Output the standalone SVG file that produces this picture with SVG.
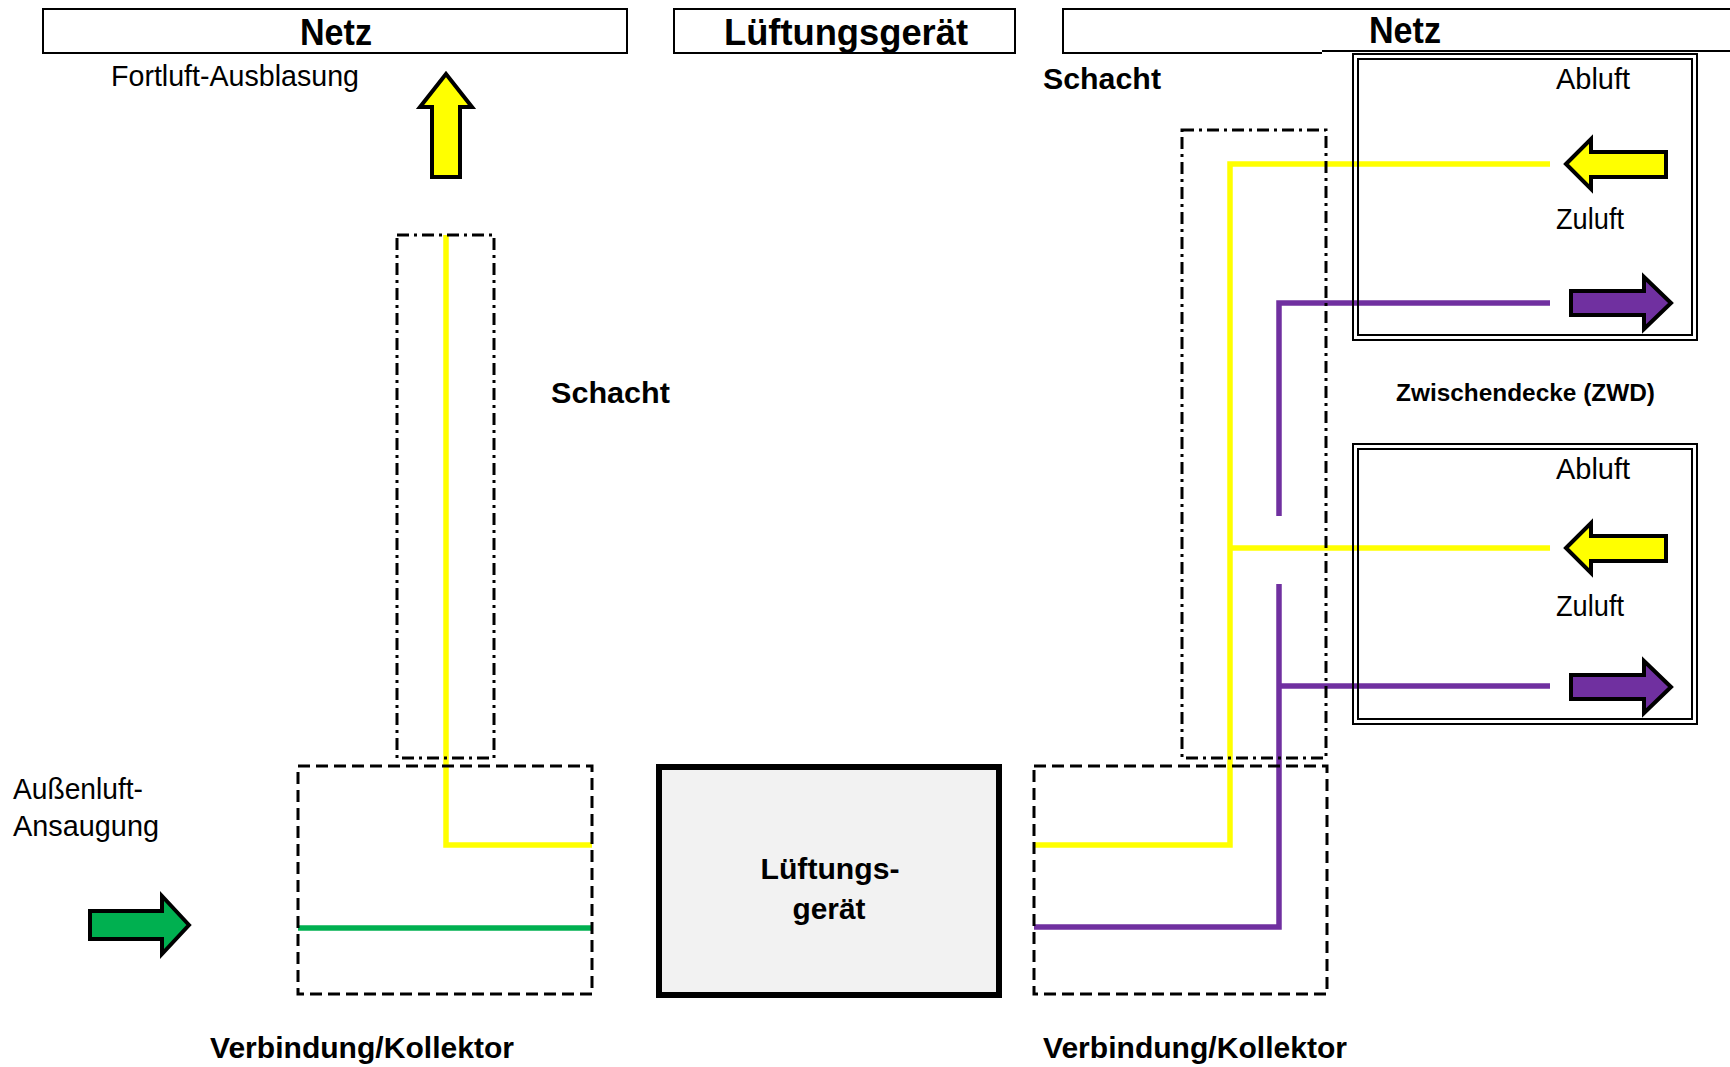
<svg xmlns="http://www.w3.org/2000/svg" width="1730" height="1067" viewBox="0 0 1730 1067">
<style>
text{font-family:"Liberation Sans Narrow","Liberation Sans",Arial,sans-serif;fill:#000}
.h{font-size:36px;font-weight:bold}
.n{font-size:29px}
.b{font-size:30px;font-weight:bold}
.box{fill:#fff;stroke:#000;stroke-width:2}
.dash{fill:none;stroke:#000;stroke-width:3;stroke-dasharray:12 6}
.dd{fill:none;stroke:#000;stroke-width:3;stroke-dasharray:12 5 3 5}
.y{fill:none;stroke:#ffff00;stroke-width:5.5}
.p{fill:none;stroke:#7030a0;stroke-width:5.5}
.g{fill:none;stroke:#00b050;stroke-width:5.5}
.arr{stroke:#000;stroke-width:4;stroke-linejoin:miter}
.zwd{fill:none;stroke:#000;stroke-width:2}
</style>
<rect width="1730" height="1067" fill="#fff"/>

<g id="netz-left">
<rect class="box" x="43" y="9" width="584" height="44"/>
<text class="h" x="336" y="45" text-anchor="middle" textLength="72" lengthAdjust="spacingAndGlyphs">Netz</text>
</g>
<g id="lueftungsgeraet-header">
<rect class="box" x="674" y="9" width="341" height="44"/>
<text class="h" x="846" y="45" text-anchor="middle" textLength="244" lengthAdjust="spacingAndGlyphs">Lüftungsgerät</text>
</g>
<g id="netz-right">
<path d="M1740 9 H1063 V53 H1322 M1322 51 H1740" fill="none" stroke="#000" stroke-width="2"/>
<text class="h" x="1405" y="43" text-anchor="middle" textLength="72" lengthAdjust="spacingAndGlyphs">Netz</text>
</g>

<g id="connectors">
<path class="y" d="M446 235 V845 H592"/>
<path class="g" d="M298 928 H592"/>
<path class="y" d="M1034 845 H1230 V164 H1550"/>
<path class="y" d="M1230 548 H1550"/>
<path class="p" d="M1550 303 H1279 V516"/>
<path class="p" d="M1279 584 V927 H1034"/>
<path class="p" d="M1279 686 H1550"/>
</g>

<g id="schacht-left">
<rect class="dd" x="397" y="235" width="97" height="523"/>
<text class="b" x="551" y="403" textLength="119" lengthAdjust="spacingAndGlyphs">Schacht</text>
</g>
<g id="kollektor-left">
<rect class="dash" x="298" y="766" width="294" height="228"/>
<text class="b" x="210" y="1058" textLength="304" lengthAdjust="spacingAndGlyphs">Verbindung/Kollektor</text>
</g>
<g id="fortluft">
<polygon class="arr" fill="#ffff00" points="446,74 472,107 460,107 460,177 432,177 432,107 420,107"/>
<text class="n" x="111" y="86" textLength="248" lengthAdjust="spacingAndGlyphs">Fortluft-Ausblasung</text>
</g>
<g id="aussenluft">
<polygon class="arr" fill="#00b050" points="189,925 162,896 162,911 90,911 90,939 162,939 162,954"/>
<text class="n" x="13" y="799" textLength="130" lengthAdjust="spacingAndGlyphs">Außenluft-</text>
<text class="n" x="13" y="836" textLength="146" lengthAdjust="spacingAndGlyphs">Ansaugung</text>
</g>
<g id="lueftungsgeraet">
<rect x="659" y="767" width="340" height="228" fill="#f2f2f2" stroke="#000" stroke-width="6"/>
<text class="b" x="830" y="879" text-anchor="middle" textLength="139" lengthAdjust="spacingAndGlyphs">Lüftungs-</text>
<text class="b" x="829" y="919" text-anchor="middle" textLength="73" lengthAdjust="spacingAndGlyphs">gerät</text>
</g>
<g id="schacht-right">
<rect class="dd" x="1182" y="130" width="144" height="628"/>
<text class="b" x="1043" y="89" textLength="118" lengthAdjust="spacingAndGlyphs">Schacht</text>
</g>
<g id="kollektor-right">
<rect class="dash" x="1034" y="766" width="293" height="228"/>
<text class="b" x="1043" y="1058" textLength="304" lengthAdjust="spacingAndGlyphs">Verbindung/Kollektor</text>
</g>
<g id="zwd-upper">
<rect class="zwd" x="1353" y="54" width="344" height="286" stroke-width="2.5"/>
<rect class="zwd" x="1358" y="59" width="334" height="276"/>
<text class="n" x="1556" y="89" textLength="74" lengthAdjust="spacingAndGlyphs">Abluft</text>
<polygon class="arr" fill="#ffff00" points="1566,164 1591,139 1591,152 1666,152 1666,177 1591,177 1591,189"/>
<text class="n" x="1556" y="229" textLength="68" lengthAdjust="spacingAndGlyphs">Zuluft</text>
<polygon class="arr" fill="#7030a0" points="1671,303 1644,277 1644,291 1571,291 1571,315 1644,315 1644,329"/>
</g>
<g id="zwd-label">
<text x="1396" y="401" font-size="23" font-weight="bold" textLength="259" lengthAdjust="spacingAndGlyphs" style="font-family:'Liberation Sans',Arial,sans-serif">Zwischendecke (ZWD)</text>
</g>
<g id="zwd-lower">
<rect class="zwd" x="1353" y="444" width="344" height="280" stroke-width="2.5"/>
<rect class="zwd" x="1358" y="449" width="334" height="270"/>
<text class="n" x="1556" y="479" textLength="74" lengthAdjust="spacingAndGlyphs">Abluft</text>
<polygon class="arr" fill="#ffff00" points="1566,548 1591,523 1591,536 1666,536 1666,561 1591,561 1591,573"/>
<text class="n" x="1556" y="616" textLength="68" lengthAdjust="spacingAndGlyphs">Zuluft</text>
<polygon class="arr" fill="#7030a0" points="1671,687 1644,661 1644,675 1571,675 1571,699 1644,699 1644,713"/>
</g>
</svg>
